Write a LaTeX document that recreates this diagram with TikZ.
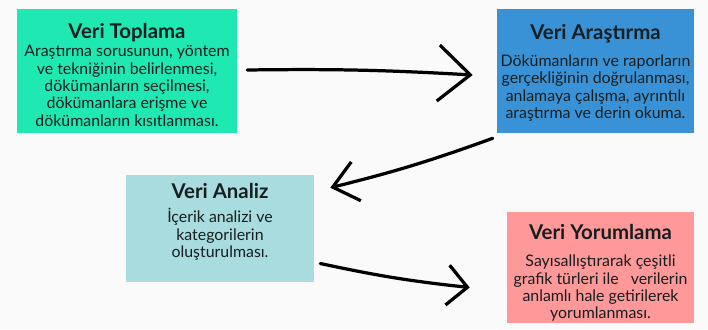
\documentclass[tikz,border=0pt]{standalone}
\usepackage{fontspec}
\setmainfont{Lato}
\usepackage{xcolor}
\usetikzlibrary{arrows.meta, positioning, calc}
\definecolor{cGreen}{RGB}{32,232,178}
\definecolor{cBlue}{RGB}{58,146,214}
\definecolor{cTeal}{RGB}{168,220,222}
\definecolor{cPink}{RGB}{255,152,152}
\definecolor{cInk}{RGB}{22,30,32}
\definecolor{cBack}{RGB}{250,250,250}
\newcommand{\stagehead}[2][10pt]{{\fontsize{14.5}{16}\selectfont\bfseries\rule{0pt}{#1}#2}}
\tikzset{
	stage/.style={rectangle, inner sep=0pt, align=center, text=cInk, font=\fontsize{11.3}{12.3}\selectfont},
	brush/.style={line width=2.3pt, line cap=round, draw=black},
}

\begin{document}
\begin{tikzpicture}[x=0.025cm, y=-0.025cm]
	\useasboundingbox[fill=cBack] (0,0) rectangle (708,329);
	% the four stages
	\node[stage, fill=cGreen, minimum width=220*0.025cm, minimum height=124*0.025cm] (toplama) at (127,71)
		{\stagehead[16pt]{Veri Toplama}\\[1pt]
		 Araştırma sorusunun, yöntem\\ ve tekniğinin belirlenmesi,\\ dökümanların seçilmesi,\\ dökümanlara erişme ve\\ dökümanların kısıtlanması.};
	\node[stage, fill=cBlue, minimum width=197*0.025cm, minimum height=124*0.025cm] (arastirma) at (595.5,71)
		{\stagehead[13.5pt]{Veri Araştırma}\\[7pt]
		 Dökümanların ve raporların\\ gerçekliğinin doğrulanması,\\ anlamaya çalışma, ayrıntılı\\ araştırma ve derin okuma.};
	\node[stage, fill=cTeal, minimum width=188*0.025cm, minimum height=107*0.025cm] (analiz) at (220,228.5)
		{\stagehead[13.5pt]{Veri Analiz}\\[5pt]
		 İçerik analizi ve\\ kategorilerin\\ oluşturulması.\\[2pt]};
	\node[stage, fill=cPink, minimum width=187*0.025cm, minimum height=111*0.025cm] (yorumlama) at (600.5,267.5)
		{\stagehead[18.5pt]{Veri Yorumlama}\\[7pt]
		 Sayısallıştırarak çeşitli\\ grafik türleri ile\ \ \ verilerin\\ anlamlı hale getirilerek\\ yorumlanması.};
	% brush arrows
	\draw[brush, -{Straight Barb[length=0.8cm, width=1.4cm]}]
		([shift={(10,-1)}]toplama.east) to[bend left=2] ([shift={(-24,4)}]arastirma.west);
	\draw[brush, -{Straight Barb[length=0.6cm, width=1cm]}]
		([shift={(-4,5)}]arastirma.south west) to[bend left=3] ([shift={(16,13)}]analiz.north east);
	\draw[brush, -{Straight Barb[length=0.5cm, width=1cm]}]
		([shift={(6,35)}]analiz.east) to[bend right=3] ([shift={(-37,20)}]yorumlama.west);
\end{tikzpicture}
\end{document}
